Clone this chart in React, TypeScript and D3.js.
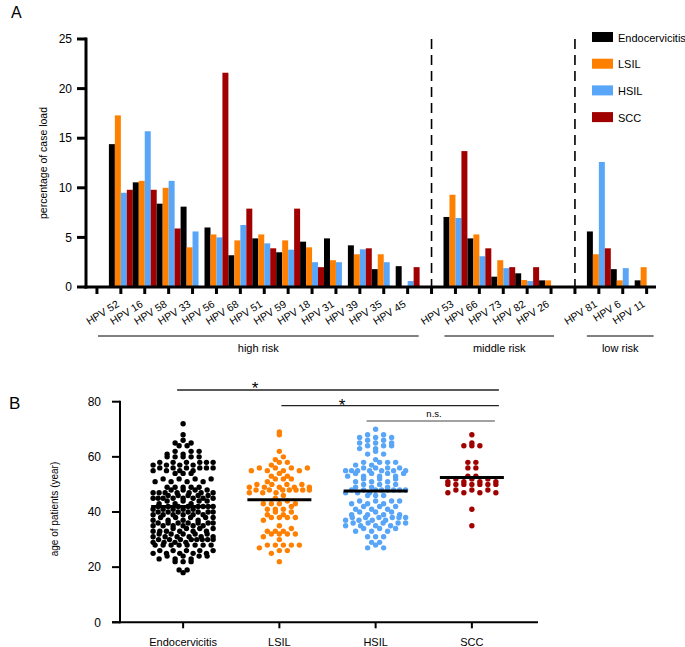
import React from "react";
import * as d3 from "d3";

// ---------- Panel A data ----------
const hpvTypes = [
  "HPV 52", "HPV 16", "HPV 58", "HPV 33", "HPV 56", "HPV 68", "HPV 51", "HPV 59", "HPV 18", "HPV 31", "HPV 39", "HPV 35", "HPV 45",
  "HPV 53", "HPV 66", "HPV 73", "HPV 82", "HPV 26",
  "HPV 81", "HPV 6", "HPV 11",
];
const riskNames = ["high risk", "middle risk", "low risk"];
const riskSizes = [13, 5, 3];
const seriesNames = ["Endocervicitis", "LSIL", "HSIL", "SCC"];
const seriesColors = ["#000000", "#FF8000", "#59A5F8", "#A00000"];

const endoPct = [14.4, 10.55, 8.4, 8.1, 6.0, 3.2, 4.9, 3.5, 4.57, 4.9, 4.2, 1.8, 2.1, 7.06, 4.9, 1.04, 1.38, 0.67, 5.6, 1.8, 0.67];
const lsilPct = [17.3, 10.7, 10.0, 4.0, 5.3, 4.7, 5.3, 4.7, 4.0, 2.7, 3.3, 3.3, 0, 9.3, 5.3, 2.7, 0.7, 0.67, 3.3, 0.67, 2.0];
const hsilPct = [9.5, 15.7, 10.7, 5.6, 5.0, 6.25, 4.4, 3.76, 2.5, 2.5, 3.8, 2.5, 0.6, 6.96, 3.1, 1.9, 0.6, 0, 12.6, 1.9, 0];
const sccPct = [9.8, 9.8, 5.9, 0, 21.6, 7.9, 3.9, 7.9, 2.0, 0, 3.9, 0, 2.0, 13.7, 3.9, 2.0, 2.0, 0, 3.9, 0, 0];
const pctSeries = [endoPct, lsilPct, hsilPct, sccPct];
const yTicksA = [0, 5, 10, 15, 20, 25];

// ---------- Panel B data ----------
const endoAges = [
  72, 68, 66, 65, 65, 64, 64, 62, 62, 62, 61, 61,
  60, 60, 60, 60, 60, 58, 58, 58, 58, 58, 58, 57, 57, 57, 57,
  56, 56, 56, 56, 56, 56, 55, 55, 55, 55, 54, 54, 54,
  52, 52, 52, 52, 51, 51, 51, 51, 49, 49, 49, 49, 49, 48, 48, 48, 48,
  47, 47, 47, 47, 47, 47, 47, 46, 46, 46, 46, 46,
  45, 45, 45, 45, 45, 45, 45, 45, 44, 44, 44, 44, 43, 43, 43,
  42, 42, 42, 42, 42, 42, 42, 42, 41, 41, 41, 41, 41,
  40, 40, 40, 40, 40, 40, 40, 39, 39, 39, 39, 39, 39, 38, 38, 38, 38, 38,
  37, 37, 37, 37, 36, 36, 36, 36, 36, 36, 36, 35, 35, 35, 35, 35, 35,
  34, 34, 34, 34, 33, 33, 33, 33, 33, 33, 32, 32, 32, 32, 32,
  31, 31, 31, 31, 31, 31, 30, 30, 30, 30, 30, 30, 30, 30, 29, 29, 29, 29,
  28, 28, 28, 28, 28, 28, 28, 28, 26, 26, 26, 26, 26, 25, 25, 25, 25, 25,
  24, 24, 24, 24, 23, 23, 23, 22, 22, 22, 19, 19, 18,
];
const lsilAges = [
  69, 68, 62, 60, 59, 58, 58, 57, 56, 56, 56, 56, 55, 55, 55, 55, 54, 53, 53, 52, 52, 52, 51,
  50, 50, 50, 50, 49, 49, 49, 49, 49, 48, 48, 48, 48, 48, 48, 48, 47, 47, 47, 46, 45, 44,
  43, 43, 43, 43, 42, 41, 41, 41, 40, 40, 39, 39, 38, 38, 38, 38, 37, 35, 34, 33, 33, 33,
  32, 32, 32, 32, 31, 30, 28, 28, 28, 28, 28, 27, 26, 26, 25, 22,
];
const hsilAges = [
  70, 68, 68, 67, 67, 67, 66, 66, 65, 65, 65, 64, 64, 64, 63, 63, 62, 61, 61, 59,
  58, 58, 58, 58, 57, 57, 56, 56, 56, 56, 55, 55, 55, 55, 55, 55, 55, 54, 54, 54, 54,
  53, 53, 53, 53, 52, 52, 52, 51, 51, 51, 50, 50, 50, 49, 49, 49,
  48, 48, 48, 48, 48, 48, 48, 48, 47, 47, 47, 46, 46, 46, 44, 44, 44, 44, 43, 43, 43,
  42, 42, 42, 41, 41, 41, 40, 40, 40, 39, 39, 39, 39, 38, 38, 38, 38, 38, 38,
  37, 37, 37, 37, 36, 36, 36, 36, 36, 35, 35, 35, 35, 34, 34, 34, 33, 33, 33,
  31, 31, 31, 29, 29, 28, 27, 27,
];
const sccAges = [
  68, 65, 64, 64, 64, 58, 58, 56, 56, 53, 53, 52, 52, 52, 51, 51, 51, 51,
  50, 50, 50, 50, 50, 50, 50, 48, 48, 48, 47, 47, 47, 47, 41, 35,
];
const ageSeries = [endoAges, lsilAges, hsilAges, sccAges];
const meanAges = [42, 44.4, 47.6, 52.5];
const yTicksB = [0, 20, 40, 60, 80];
const sigFrom = [0, 1, 2];
const sigTo = [3, 3, 3];
const sigLabels = ["*", "*", "n.s."];

const FONT = "Arial, 'Liberation Sans', Helvetica, sans-serif";

// GraphPad-like scatter: ages binned in pairs of years, each bin laid out as one row
function layoutDots(ages: number[], spacing: number, maxWidth: number) {
  const bins = d3.group(ages, (a) => Math.floor((a + 1) / 2));
  const out: { age: number; dx: number }[] = [];
  bins.forEach((vals) => {
    const sorted = vals.slice().sort((a, b) => a - b);
    const n = sorted.length;
    const sp = n > 1 ? Math.min(spacing, maxWidth / (n - 1)) : 0;
    // interleave: lower ages at even positions, higher at odd
    const order: number[] = [];
    for (let p = 0; p < n; p += 2) order.push(p);
    for (let p = 1; p < n; p += 2) order.push(p);
    sorted.forEach((a, i) => {
      const pos = order[i];
      out.push({ age: a, dx: (pos - (n - 1) / 2) * sp });
    });
  });
  return out;
}

export default function App() {
  // ----- Panel A scales -----
  const slots: { label: string; ti: number; group: number }[] = [];
  let ti = 0;
  riskSizes.forEach((n, g) => {
    slots.push({ label: "", ti: -1, group: g });
    for (let i = 0; i < n; i++) {
      slots.push({ label: hpvTypes[ti], ti, group: g });
      ti++;
    }
  });
  const xA = d3.scaleBand<number>().domain(d3.range(slots.length)).range([85, 658.6]).padding(0);
  const xInner = d3.scaleBand<string>().domain(seriesNames).range([0, xA.bandwidth()]).padding(0);
  const yA = d3.scaleLinear().domain([0, 25]).range([287, 39]);
  const cx = (k: number) => (xA(k) as number) + xA.bandwidth() / 2;

  const gapSlots = slots.map((s, i) => (s.ti < 0 ? i : -1)).filter((i) => i > 0);

  const groupSlots = riskNames.map((_, g) => slots.map((s, i) => (s.group === g && s.ti >= 0 ? i : -1)).filter((i) => i >= 0));
  const bracketStart = [cx(0) + 1, cx(groupSlots[1][0]) - 11, cx(groupSlots[2][0]) - 12];
  const bracketEnd = [cx(groupSlots[0][groupSlots[0].length - 1]) + 11, cx(groupSlots[1][groupSlots[1].length - 1]) + 3, cx(groupSlots[2][groupSlots[2].length - 1]) + 7];

  // ----- Panel B scales -----
  const xB = d3.scaleBand<string>().domain(seriesNames).range([135, 520]);
  const cB = (i: number) => (xB(seriesNames[i]) as number) + xB.bandwidth() / 2;
  const yB = d3.scaleLinear().domain([0, 80]).range([622.3, 401.7]);

  const sigY = [390, 405.7, 421];
  const sigX1 = [cB(0) - 6, cB(1) + 2, cB(2) - 9];
  const sigX2 = [cB(3) + 27, cB(3) + 27, cB(3) + 23];
  const sigLabelX = [255, 342, 434];
  const sigLabelY = [394, 411, 417];

  return (
    <svg width={685} height={647} style={{ position: "absolute", left: 0, top: 0, background: "#fff" }} fontFamily={FONT}>
      <rect x={0} y={0} width={685} height={647} fill="#fff" />
      {/* ===== Panel A ===== */}
      <text x={11} y={18} fontSize={16}>A</text>

      {slots.map((s, k) =>
        s.ti < 0
          ? null
          : pctSeries.map((ser, si) => {
              const v = ser[s.ti];
              if (!v) return null;
              return (
                <rect
                  key={`b${k}-${si}`}
                  x={(xA(k) as number) + (xInner(seriesNames[si]) as number)}
                  width={xInner.bandwidth()}
                  y={yA(v)}
                  height={yA(0) - yA(v)}
                  fill={seriesColors[si]}
                />
              );
            })
      )}

      {gapSlots.map((k) => (
        <line key={`d${k}`} x1={cx(k)} x2={cx(k)} y1={yA(25)} y2={yA(0)} stroke="#000" strokeWidth={1.6} strokeDasharray="10,6" />
      ))}

      <line x1={86} x2={86} y1={yA(25) - 1.5} y2={yA(0) + 1.5} stroke="#000" strokeWidth={3} />
      {yTicksA.map((t) => (
        <g key={`ya${t}`}>
          <line x1={77} x2={86} y1={yA(t)} y2={yA(t)} stroke="#000" strokeWidth={3} />
          <text x={72} y={yA(t)} dy="0.35em" textAnchor="end" fontSize={12}>{t}</text>
        </g>
      ))}
      <text transform={`translate(47,${(yA(0) + yA(25)) / 2}) rotate(-90)`} textAnchor="middle" fontSize={10.5}>
        percentage of case load
      </text>

      <line x1={84.5} x2={656} y1={yA(0)} y2={yA(0)} stroke="#000" strokeWidth={3} />
      {slots.map((s, k) => (
        <g key={`xa${k}`}>
          <line x1={cx(k)} x2={cx(k)} y1={yA(0)} y2={yA(0) + 7} stroke="#000" strokeWidth={3} />
          {s.label && (
            <text transform={`translate(${cx(k) - 1},${306}) rotate(-32)`} textAnchor="end" fontSize={10.5}>
              {s.label}
            </text>
          )}
        </g>
      ))}

      {riskNames.map((r, g) => (
        <g key={`r${g}`}>
          <line x1={bracketStart[g]} x2={bracketEnd[g]} y1={336} y2={336} stroke="#000" strokeWidth={1} />
          <text x={(bracketStart[g] + bracketEnd[g]) / 2} y={352} textAnchor="middle" fontSize={11}>{r}</text>
        </g>
      ))}

      {seriesNames.map((n, i) => (
        <g key={`lg${i}`}>
          <rect x={592} y={32 + i * 26.7} width={21} height={10} fill={seriesColors[i]} />
          <text x={618} y={32 + i * 26.7 + 9.5} fontSize={11}>{n}</text>
        </g>
      ))}

      {/* ===== Panel B ===== */}
      <text x={9} y={409} fontSize={17}>B</text>

      {ageSeries.map((ages, si) =>
        layoutDots(ages, 8, 60).map((d, j) => (
          <circle key={`p${si}-${j}`} cx={cB(si) + d.dx} cy={yB(d.age)} r={2.7} fill={seriesColors[si]} />
        ))
      )}
      {meanAges.map((m, i) => (
        <line key={`m${i}`} x1={cB(i) - 32} x2={cB(i) + 32} y1={yB(m)} y2={yB(m)} stroke="#000" strokeWidth={3} />
      ))}

      <line x1={120} x2={120} y1={yB(80) - 1} y2={yB(0) + 1} stroke="#000" strokeWidth={2} />
      {yTicksB.map((t) => (
        <g key={`yb${t}`}>
          <line x1={112} x2={120} y1={yB(t)} y2={yB(t)} stroke="#000" strokeWidth={2} />
          <text x={101} y={yB(t)} dy="0.35em" textAnchor="end" fontSize={12}>{t}</text>
        </g>
      ))}
      <text transform={`translate(58,${(yB(0) + yB(80)) / 2 - 3}) rotate(-90)`} textAnchor="middle" fontSize={10}>
        age of patients (year)
      </text>
      <line x1={112} x2={538} y1={yB(0)} y2={yB(0)} stroke="#000" strokeWidth={2} />
      {seriesNames.map((n, i) => (
        <g key={`xb${i}`}>
          <line x1={cB(i)} x2={cB(i)} y1={yB(0)} y2={yB(0) + 6} stroke="#000" strokeWidth={2} />
          <text x={cB(i)} y={646} textAnchor="middle" fontSize={11}>{n}</text>
        </g>
      ))}

      {sigFrom.map((f, i) => (
        <g key={`s${i}`}>
          <line x1={sigX1[i]} x2={sigX2[i]} y1={sigY[i]} y2={sigY[i]} stroke={i < 2 ? "#222" : "#444"} strokeWidth={i < 2 ? 1.3 : 1} />
          <text x={sigLabelX[i]} y={sigLabelY[i]} textAnchor="middle" fontSize={i < 2 ? 17 : 9.5}>
            {sigLabels[i]}
          </text>
        </g>
      ))}
    </svg>
  );
}
